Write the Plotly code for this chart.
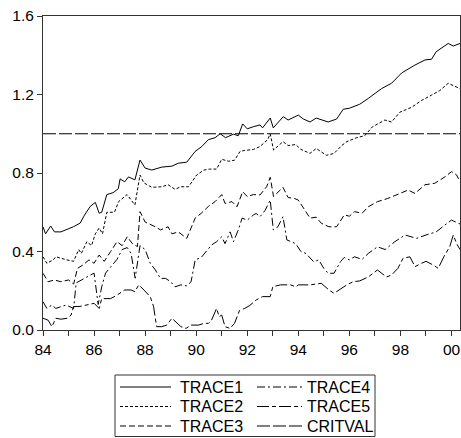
import plotly.graph_objects as go

# ---------------- data ----------------
trace1_years = [1984.0, 1984.1, 1984.3, 1984.45, 1984.7, 1985.19, 1985.46, 1985.6, 1985.85, 1986.05,
                1986.2, 1986.3, 1986.5, 1986.75, 1986.95, 1987.02, 1987.2, 1987.35, 1987.6, 1987.8,
                1988.0, 1988.26, 1988.65, 1989.05, 1989.3, 1989.63, 1989.96, 1990.22, 1990.48, 1990.74,
                1990.94, 1991.15, 1991.46, 1991.65, 1991.82, 1992.0, 1992.24, 1992.5, 1992.6, 1992.9,
                1993.02, 1993.41, 1993.6, 1994.0, 1994.2, 1994.46, 1994.7, 1995.17, 1995.5, 1995.76,
                1996.0, 1996.4, 1996.74, 1997.26, 1997.65, 1998.05, 1998.57, 1998.96, 1999.22, 1999.4,
                1999.87, 2000.07, 2000.333]
trace1 = [0.526, 0.49, 0.53, 0.50, 0.50, 0.526, 0.545, 0.58, 0.63, 0.65,
          0.595, 0.60, 0.69, 0.70, 0.72, 0.77, 0.755, 0.78, 0.765, 0.866,
          0.825, 0.815, 0.83, 0.835, 0.85, 0.855, 0.91, 0.935, 0.97, 0.98,
          1.0, 0.98, 0.998, 0.99, 1.05, 1.025, 1.036, 1.045, 1.03, 1.08,
          1.03, 1.087, 1.07, 1.095, 1.075, 1.06, 1.08, 1.06, 1.075, 1.125,
          1.13, 1.15, 1.18, 1.23, 1.257, 1.31, 1.35, 1.376, 1.38, 1.418,
          1.46, 1.447, 1.46]

trace2_years = [1984.0, 1984.15, 1984.4, 1984.5, 1984.94, 1985.2, 1985.4, 1985.5, 1985.72, 1985.9,
                1986.05, 1986.2, 1986.33, 1986.5, 1986.8, 1986.96, 1987.29, 1987.5, 1987.6, 1987.8,
                1987.95, 1988.26, 1988.65, 1988.9, 1989.17, 1989.4, 1989.7, 1990.02, 1990.3, 1990.53,
                1990.8, 1991.0, 1991.26, 1991.5, 1991.72, 1991.9, 1992.24, 1992.5, 1992.8, 1992.9,
                1993.03, 1993.4, 1993.6, 1993.9, 1994.1, 1994.46, 1994.7, 1995.1, 1995.4, 1995.7,
                1995.9, 1996.29, 1996.6, 1996.9, 1997.39, 1997.65, 1997.98, 1998.44, 1998.83, 1999.22,
                1999.54, 1999.87, 2000.1, 2000.333]
trace2 = [0.373, 0.34, 0.357, 0.373, 0.357, 0.35, 0.41, 0.39, 0.45, 0.43,
          0.49, 0.52, 0.49, 0.60, 0.60, 0.654, 0.69, 0.65, 0.637, 0.79,
          0.75, 0.727, 0.73, 0.74, 0.717, 0.73, 0.73, 0.79, 0.815, 0.82,
          0.82, 0.87, 0.86, 0.865, 0.91, 0.915, 0.92, 0.935, 0.97, 1.0,
          0.917, 0.96, 0.94, 0.945, 0.92, 0.90, 0.925, 0.89, 0.90, 0.94,
          0.96, 0.98, 0.99, 1.035, 1.07, 1.06, 1.11, 1.135, 1.17, 1.197,
          1.22, 1.257, 1.245, 1.23]

trace3_years = [1984.0, 1984.2, 1984.45, 1984.7, 1985.0, 1985.2, 1985.35, 1985.55, 1985.8, 1986.0,
                1986.2, 1986.4, 1986.65, 1986.9, 1987.1, 1987.3, 1987.5, 1987.7, 1987.8, 1988.0,
                1988.4, 1988.6, 1988.9, 1989.05, 1989.3, 1989.63, 1989.96, 1990.2, 1990.48, 1990.74,
                1991.0, 1991.13, 1991.4, 1991.6, 1991.82, 1992.0, 1992.24, 1992.5, 1992.76, 1992.9,
                1993.03, 1993.4, 1993.6, 1993.85, 1994.0, 1994.2, 1994.46, 1994.7, 1994.9, 1995.2,
                1995.5, 1995.8, 1996.0, 1996.2, 1996.5, 1996.74, 1997.1, 1997.5, 1997.85, 1998.3,
                1998.57, 1998.96, 1999.35, 1999.74, 2000.0, 2000.2, 2000.333]
trace3 = [0.289, 0.246, 0.255, 0.246, 0.255, 0.234, 0.314, 0.33, 0.357, 0.34,
          0.382, 0.35, 0.40, 0.45, 0.43, 0.475, 0.44, 0.425, 0.603, 0.55,
          0.526, 0.51, 0.526, 0.49, 0.50, 0.467, 0.57, 0.595, 0.63, 0.654,
          0.69, 0.645, 0.654, 0.628, 0.705, 0.68, 0.69, 0.688, 0.73, 0.778,
          0.68, 0.727, 0.675, 0.67, 0.662, 0.62, 0.57, 0.575, 0.544, 0.526,
          0.526, 0.586, 0.58, 0.603, 0.595, 0.628, 0.654, 0.67, 0.688, 0.713,
          0.696, 0.74, 0.748, 0.78, 0.807, 0.79, 0.756]

trace4_years = [1984.0, 1984.15, 1984.35, 1984.5, 1984.9, 1985.2, 1985.3, 1985.6, 1985.9, 1986.0,
                1986.16, 1986.3, 1986.45, 1986.7, 1986.9, 1987.1, 1987.3, 1987.45, 1987.61, 1987.8,
                1988.0, 1988.2, 1988.4, 1988.6, 1988.8, 1989.0, 1989.17, 1989.4, 1989.63, 1989.8,
                1989.96, 1990.2, 1990.4, 1990.6, 1990.8, 1991.0, 1991.13, 1991.33, 1991.46, 1991.65,
                1991.8, 1992.0, 1992.24, 1992.35, 1992.5, 1992.7, 1992.9, 1993.02, 1993.2, 1993.4,
                1993.55, 1993.7, 1993.9, 1994.1, 1994.3, 1994.6, 1994.8, 1995.0, 1995.17, 1995.4,
                1995.65, 1995.8, 1996.0, 1996.2, 1996.5, 1996.74, 1997.1, 1997.4, 1997.78, 1998.18,
                1998.63, 1999.0, 1999.4, 1999.74, 2000.0, 2000.333]
trace4 = [0.144, 0.11, 0.127, 0.11, 0.127, 0.11, 0.24, 0.26, 0.28, 0.29,
          0.13, 0.22, 0.29, 0.33, 0.36, 0.41, 0.42, 0.39, 0.264, 0.43,
          0.41, 0.34, 0.306, 0.263, 0.263, 0.246, 0.22, 0.23, 0.225, 0.246,
          0.357, 0.37, 0.40, 0.433, 0.45, 0.475, 0.44, 0.50, 0.45, 0.51,
          0.57, 0.56, 0.586, 0.594, 0.577, 0.61, 0.662, 0.51, 0.526, 0.577,
          0.459, 0.45, 0.44, 0.40, 0.39, 0.348, 0.357, 0.314, 0.289, 0.289,
          0.348, 0.37, 0.357, 0.373, 0.36, 0.39, 0.424, 0.41, 0.45, 0.484,
          0.467, 0.484, 0.50, 0.535, 0.56, 0.54]

trace5_years = [1984.0, 1984.2, 1984.35, 1984.5, 1984.7, 1984.95, 1985.1, 1985.2, 1985.45, 1985.7,
                1986.0, 1986.2, 1986.3, 1986.65, 1986.9, 1987.2, 1987.45, 1987.6, 1987.75, 1987.95,
                1988.2, 1988.33, 1988.45, 1988.65, 1988.85, 1989.05, 1989.25, 1989.4, 1989.6, 1989.8,
                1990.1, 1990.3, 1990.48, 1990.6, 1990.8, 1990.9, 1991.0, 1991.13, 1991.33, 1991.5,
                1991.7, 1991.9, 1992.1, 1992.35, 1992.6, 1992.9, 1993.0, 1993.3, 1993.7, 1993.9,
                1994.0, 1994.46, 1994.9, 1995.2, 1995.4, 1995.65, 1995.9, 1996.15, 1996.4, 1996.74,
                1997.1, 1997.45, 1997.65, 1997.9, 1998.1, 1998.37, 1998.57, 1998.83, 1999.0, 1999.3,
                1999.48, 1999.7, 1999.93, 2000.07, 2000.2, 2000.333]
trace5 = [0.06, 0.05, 0.017, 0.06, 0.055, 0.06, 0.076, 0.12, 0.12, 0.127,
          0.136, 0.11, 0.16, 0.16, 0.178, 0.204, 0.204, 0.195, 0.23, 0.204,
          0.17, 0.12, 0.017, 0.017, 0.025, 0.06, 0.034, 0.017, 0.008, 0.025,
          0.025, 0.034, 0.034, 0.05, 0.11, 0.068, 0.076, 0.017, 0.008, 0.034,
          0.10, 0.11, 0.125, 0.153, 0.17, 0.17, 0.22, 0.23, 0.23, 0.22,
          0.23, 0.23, 0.238, 0.204, 0.187, 0.21, 0.23, 0.246, 0.25, 0.27,
          0.306, 0.27, 0.28, 0.314, 0.365, 0.373, 0.323, 0.34, 0.35, 0.33,
          0.314, 0.373, 0.424, 0.484, 0.44, 0.41]

critval_years = [1984.0, 2000.333]
critval = [1.0, 1.0]

x_tick_years = list(range(1984, 2001))
x_tick_labels = ["84", "", "86", "", "88", "", "90", "", "92", "", "94", "", "96", "", "98", "", "00"]
y_tick_values = [0.0, 0.4, 0.8, 1.2, 1.6]
y_tick_labels = ["0.0", "0.4", "0.8", "1.2", "1.6"]

series_names = ["TRACE1", "TRACE2", "TRACE3", "TRACE4", "TRACE5", "CRITVAL"]
series_x = [trace1_years, trace2_years, trace3_years, trace4_years, trace5_years, critval_years]
series_y = [trace1, trace2, trace3, trace4, trace5, critval]

for xs, ys in zip(series_x, series_y):
    assert len(xs) == len(ys), (len(xs), len(ys))

# ---------------- styles / layout ----------------
dashes = ["solid", "3px,2px", "6px,3px", "8px,3px,2px,3px", "12px,3px,4px,3px", "13px,3px"]
FONT = "Liberation Sans, Arial, sans-serif"
W, H = 461, 438
ML, MR, MT, MB = 43, 1, 16, 108
PW, PH = W - ML - MR, H - MT - MB


def px2x(px):
    return (px - ML) / PW


def px2y(py):
    return (H - MB - py) / PH


fig = go.Figure()
for name, xs, ys, dash in zip(series_names, series_x, series_y, dashes):
    fig.add_trace(go.Scatter(x=xs, y=ys, mode="lines", name=name,
                             line=dict(color="black", width=1, dash=dash),
                             showlegend=False))

# custom legend (two columns, three rows) inside a box under the plot
shapes = [dict(type="rect", xref="paper", yref="paper",
               x0=px2x(115), x1=px2x(375), y0=px2y(375), y1=px2y(436.5),
               line=dict(color="#333333", width=1), fillcolor="white", layer="above")]
annotations = []
col_sample = [(120, 171), (257, 302)]
col_text = [179, 306]
row_y = [387, 406.5, 426]
for i, (name, dash) in enumerate(zip(series_names, dashes)):
    c, r = divmod(i, 3)
    yy = px2y(row_y[r])
    shapes.append(dict(type="line", xref="paper", yref="paper",
                       x0=px2x(col_sample[c][0]), x1=px2x(col_sample[c][1]), y0=yy, y1=yy,
                       line=dict(color="black", width=1, dash=dash), layer="above"))
    annotations.append(dict(xref="paper", yref="paper", x=px2x(col_text[c]), y=yy,
                            text=name, showarrow=False, xanchor="left", yanchor="middle",
                            font=dict(family=FONT, size=16, color="black"), borderpad=0))

fig.update_layout(
    width=W, height=H,
    margin=dict(l=ML, r=MR, t=MT, b=MB, pad=0),
    paper_bgcolor="white", plot_bgcolor="white",
    font=dict(family=FONT, size=15.5, color="black"),
    shapes=shapes, annotations=annotations,
    xaxis=dict(range=[1984.0, 2000.333], tickmode="array", tickvals=x_tick_years,
               ticktext=x_tick_labels, ticks="outside", ticklen=5, tickcolor="#333333",
               showline=True, linecolor="#333333", linewidth=1, mirror=True,
               showgrid=False, zeroline=False, fixedrange=True),
    yaxis=dict(range=[0, 1.6], tickmode="array", tickvals=y_tick_values,
               ticktext=y_tick_labels, ticks="outside", ticklen=5, tickcolor="#333333",
               showline=True, linecolor="#333333", linewidth=1, mirror=True,
               showgrid=False, zeroline=False, fixedrange=True),
)

fig.write_html("out.html", config={"displayModeBar": False},
               post_script="document.body.style.margin='0';")
